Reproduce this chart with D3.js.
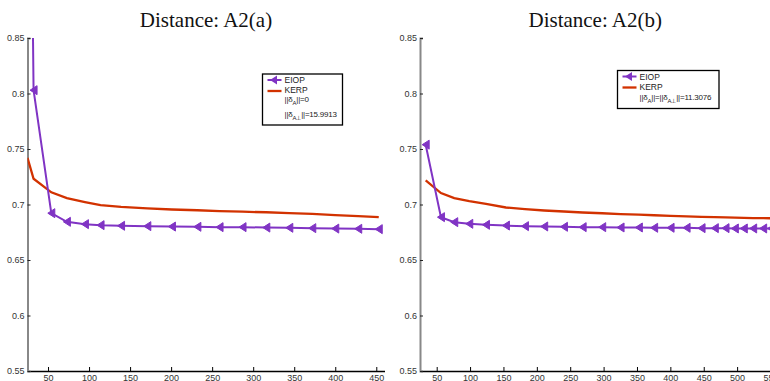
<!DOCTYPE html>
<html lang="en">
<head>
  <meta charset="UTF-8">
  <title>Distance A2 - EIOP vs KERP</title>
  <script src="https://d3js.org/d3.v7.min.js"></script>
  <style>
    body { margin: 0; background: #fff; }
    svg { display: block; }
    .title { font-family: 'Liberation Serif', 'Times New Roman', serif; font-size: 21px; fill: #111; }
    .axis text { font-family: 'Liberation Sans', Arial, sans-serif; font-size: 9px; fill: #333; }
    .legend text { font-family: 'Liberation Sans', Arial, sans-serif; font-size: 8.5px; fill: #222; }
    .legend text.norm { font-size: 8px; letter-spacing: -0.2px; }
  </style>
</head>
<body>
<div id="chart"></div>
<script>
  // ---- data ----
  const yTicks = [0.55, 0.6, 0.65, 0.7, 0.75, 0.8, 0.85];
  const yTickLabels = ["0.55", "0.6", "0.65", "0.7", "0.75", "0.8", "0.85"];

  // panel (a)
  const aX = [25, 32.4, 54, 73, 95, 114, 139, 171, 201, 232, 259, 287, 316, 344, 372, 400, 428, 453];
  const aEIOP = [1.3, 0.803, 0.6922, 0.6844, 0.6823, 0.6814, 0.6808, 0.6805, 0.6801, 0.6799,
                 0.6796, 0.6796, 0.6792, 0.679, 0.6787, 0.6783, 0.6781, 0.6778];
  const aKERP = [0.742, 0.7232, 0.711, 0.7058, 0.7022, 0.6994, 0.6978, 0.6965, 0.6955, 0.6948,
                 0.694, 0.6935, 0.693, 0.6922, 0.6915, 0.6905, 0.6895, 0.6886];
  const aXTicks = [50, 100, 150, 200, 250, 300, 350, 400, 450];

  // panel (b)
  const bX = [33.5, 56.4, 76.3, 98.8, 123.8, 153.7, 182.2, 211, 240.6, 268.6, 297.9, 325.4,
              352.8, 375.7, 400.3, 424.3, 446.7, 466.6, 482.6, 496.6, 510, 524, 539, 551];
  const bEIOP = [0.7539, 0.6886, 0.6841, 0.6826, 0.6817, 0.681, 0.6805, 0.6802, 0.6799, 0.6796,
                 0.6796, 0.6793, 0.6793, 0.679, 0.679, 0.679, 0.6787, 0.6787, 0.6787, 0.6784,
                 0.6784, 0.6784, 0.6784, 0.6784];
  const bKERP = [0.7217, 0.7103, 0.7058, 0.703, 0.7006, 0.6973, 0.6958, 0.6946, 0.6937, 0.6928,
                 0.6921, 0.6913, 0.6908, 0.6903, 0.6898, 0.6893, 0.6889, 0.6886, 0.6884, 0.6882,
                 0.688, 0.6878, 0.6877, 0.6876];
  const bXTicks = [50, 100, 150, 200, 250, 300, 350, 400, 450, 500, 550];

  const W = 770, H = 381;
  const purple = "#8034c4";
  const red = "#d23200";

  const svg = d3.select("#chart").append("svg")
    .attr("width", W)
    .attr("height", H);

  const tri = "M-3.5,0L3.5,-4.5L3.5,4.5Z";

  function panel(cfg) {
    const x = d3.scaleLinear().domain(cfg.xDomain).range(cfg.xRange);
    const y = d3.scaleLinear().domain([0.55, 0.85]).range([371, 38]);
    const g = svg.append("g");

    g.append("text")
      .attr("class", "title")
      .attr("x", (cfg.xRange[0] + cfg.xRange[1]) / 2)
      .attr("y", 27)
      .attr("text-anchor", "middle")
      .text(cfg.title);

    const clipId = "clip-" + cfg.id;
    g.append("clipPath").attr("id", clipId)
      .append("rect")
      .attr("x", cfg.xRange[0]).attr("y", 38)
      .attr("width", cfg.xRange[1] - cfg.xRange[0] + 6).attr("height", 371 - 38);

    // x axis
    const xa = g.append("g")
      .attr("class", "axis")
      .attr("transform", "translate(0,371)")
      .call(d3.axisBottom(x).tickValues(cfg.xTicks).tickFormat(d3.format("d"))
        .tickSizeInner(-4).tickSizeOuter(0).tickPadding(4));
    xa.select(".domain").attr("stroke", "#000").attr("stroke-width", 1.5);
    xa.selectAll(".tick line").attr("stroke", "#000");

    // y axis
    const ya = g.append("g")
      .attr("class", "axis")
      .attr("transform", `translate(${cfg.xRange[0]},0)`)
      .call(d3.axisLeft(y).tickValues(yTicks).tickFormat((d, i) => yTickLabels[i])
        .tickSizeInner(-3).tickSizeOuter(-3).tickPadding(3));
    ya.select(".domain").attr("stroke", "#888").attr("stroke-width", 2);
    ya.selectAll(".tick line").attr("stroke", "#222");

    const plot = g.append("g").attr("clip-path", `url(#${clipId})`);

    const line = d3.line()
      .x(d => x(d[0]))
      .y(d => y(d[1]));

    plot.append("path")
      .datum(cfg.xs.map((v, i) => [v, cfg.kerp[i]]))
      .attr("d", line)
      .attr("fill", "none")
      .attr("stroke", red)
      .attr("stroke-width", 2.3);

    const eiop = cfg.xs.map((v, i) => [v, cfg.eiop[i]]);
    plot.append("path")
      .datum(eiop)
      .attr("d", line)
      .attr("fill", "none")
      .attr("stroke", purple)
      .attr("stroke-width", 2);

    plot.selectAll(".mk")
      .data(eiop)
      .enter()
      .append("path")
      .attr("class", "mk")
      .attr("d", tri)
      .attr("transform", d => `translate(${x(d[0])},${y(d[1])})`)
      .attr("fill", purple)
      .attr("stroke", purple)
      .attr("stroke-width", 1);

    // legend
    const lg = g.append("g").attr("class", "legend")
      .attr("transform", `translate(${cfg.legend.x},${cfg.legend.y})`);
    lg.append("rect")
      .attr("width", cfg.legend.w).attr("height", cfg.legend.h)
      .attr("fill", "#fff").attr("stroke", "#000").attr("stroke-width", 1.3);

    lg.append("line").attr("x1", 5).attr("x2", 19).attr("y1", 6).attr("y2", 6)
      .attr("stroke", purple).attr("stroke-width", 2);
    lg.append("path").attr("d", tri).attr("transform", "translate(11,6)").attr("fill", purple);
    lg.append("text").attr("x", 22).attr("y", 9).text("EIOP");

    lg.append("line").attr("x1", 5).attr("x2", 19).attr("y1", 17).attr("y2", 17)
      .attr("stroke", red).attr("stroke-width", 2.3);
    lg.append("text").attr("x", 22).attr("y", 19).text("KERP");

    cfg.legend.lines.forEach((parts, i) => {
      const t = lg.append("text").attr("class", "norm")
        .attr("x", 22).attr("y", cfg.legend.lineY[i]);
      parts.forEach(p => {
        const s = t.append("tspan").text(p.t);
        if (p.sub) s.attr("baseline-shift", "sub").attr("font-size", "6px");
      });
    });
  }

  panel({
    id: "a",
    title: "Distance: A2(a)",
    xDomain: [25, 460], xRange: [27.5, 384.5],
    xTicks: aXTicks, xs: aX, eiop: aEIOP, kerp: aKERP,
    legend: {
      x: 262.5, y: 74, w: 80, h: 51,
      lineY: [28, 43],
      lines: [
        [{ t: "||δ" }, { t: "A", sub: true }, { t: "||=0" }],
        [{ t: "||δ" }, { t: "A⊥", sub: true }, { t: "||=15.9913" }]
      ]
    }
  });

  panel({
    id: "b",
    title: "Distance: A2(b)",
    xDomain: [25, 550], xRange: [420, 770.5],
    xTicks: bXTicks, xs: bX, eiop: bEIOP, kerp: bKERP,
    legend: {
      x: 617.5, y: 70.5, w: 101.5, h: 38,
      lineY: [29],
      lines: [
        [{ t: "||δ" }, { t: "A", sub: true }, { t: "||=||δ" }, { t: "A⊥", sub: true }, { t: "||=11.3076" }]
      ]
    }
  });
</script>
</body>
</html>
